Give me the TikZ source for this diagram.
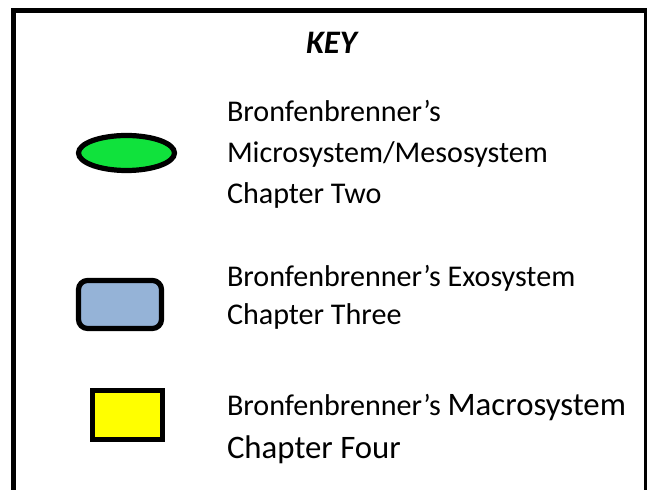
\documentclass[tikz,border=0pt]{standalone}
\usepackage{fontspec}
\setmainfont{Carlito}
\usetikzlibrary{shapes.geometric}
\definecolor{keygreen}{RGB}{16,226,60}
\definecolor{keyblue}{RGB}{149,179,215}
\definecolor{keyyellow}{RGB}{255,255,0}
\tikzset{
  symb/.style={draw=black, line width=2.6pt, inner sep=0pt, outer sep=0pt},
  txt/.style={anchor=base west, inner sep=0pt, outer sep=0pt, font=\fontsize{15.05}{18}\selectfont},
  txtbig/.style={anchor=base west, inner sep=0pt, outer sep=0pt, font=\fontsize{16.4}{19}\selectfont},
  frame/.style={draw=black, line width=2.65pt}
}
\begin{document}
\begin{tikzpicture}[x=0.5pt, y=-0.5pt]
\useasboundingbox (0,0) rectangle (647,490);
\clip (0,0) rectangle (647,490);
\fill[white] (0,0) rectangle (647,490);
% frame (bottom open)
\coordinate (fbl) at (13.3,500);
\coordinate (ftl) at (13.3,10.7);
\coordinate (ftr) at (647,10.7);
\coordinate (fbr) at (647,500);
\draw[frame, line join=miter] (fbl) -- (ftl) -- (ftr) -- (fbr);
% title
\node[anchor=base, inner sep=0pt, font=\fontsize{16.4}{19}\selectfont\bfseries\itshape] (key) at (331.5,53.3) {KEY};
% symbols
\node[symb, ellipse, fill=keygreen, minimum width=48pt, minimum height=17.5pt] (micro) at (126.5,153) {};
\node[symb, rectangle, rounded corners=4.5pt, fill=keyblue, minimum width=41.5pt, minimum height=24pt] (exo) at (120,304.5) {};
\node[symb, rectangle, fill=keyyellow, minimum width=35pt, minimum height=24.5pt] (macro) at (127.5,415) {};
% texts
\node[txt] (t1a) at (227,121.7) {Bronfenbrenner’s};
\node[txt] (t1b) at (227,162.3) {Microsystem/Mesosystem};
\node[txt] (t1c) at (227,203.3) {Chapter Two};
\node[txt] (t2a) at (227,286.7) {Bronfenbrenner’s Exosystem};
\node[txt] (t2b) at (227,325) {Chapter Three};
\node[txt] (t3a) at (227,416) {Bronfenbrenner’s \fontsize{16.4}{19}\selectfont Macrosystem};
\node[txtbig] (t3b) at (227,458.3) {Chapter Four};
\end{tikzpicture}
\end{document}
